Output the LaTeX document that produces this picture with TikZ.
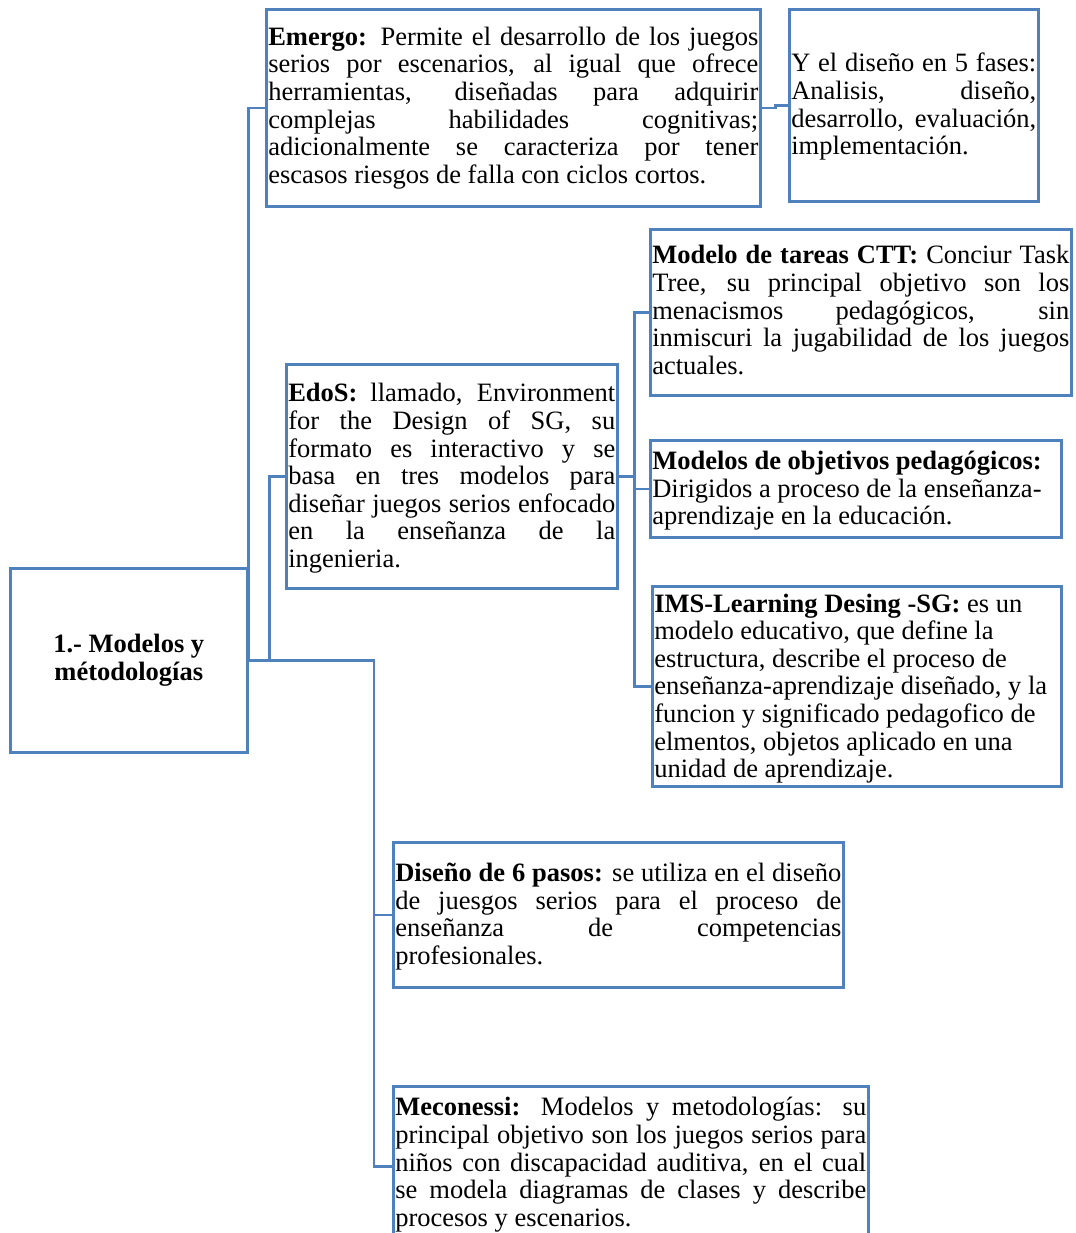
\documentclass[tikz,border=0pt]{standalone}
\usepackage{fontspec}
\setmainfont{Liberation Serif}
\definecolor{edge}{RGB}{79,129,189}

% \celltext[right stretch]{width}{height}{first baseline from top}{text}
\newcommand\celltext[5][0pt]{%
  \parbox[c][#3][t]{#2}{%
    \leftskip=1pt\rightskip=1pt plus #1\relax
    \parfillskip=0pt plus 1fil\tolerance=10000
    \hyphenpenalty=10000\exhyphenpenalty=10000
    \vspace*{\dimexpr#4-\ht\strutbox\relax}%
    \noindent\strut#5}}

\begin{document}
\begin{tikzpicture}[x=0.5pt,y=-0.5pt,
  box/.style={draw=edge, line width=1.3pt, inner sep=0pt, anchor=north west,
    font=\fontsize{13.25}{13.8}\selectfont},
  conn/.style={draw=edge, line width=1.2pt}]
\useasboundingbox (0,0) rectangle (1076,1233);
\clip (0,0) rectangle (1076,1233);

% root
\node[box, minimum width=118.5pt, minimum height=92pt, align=center,
  font=\fontsize{13.25}{13.8}\selectfont\bfseries] (root) at (9,567)
  {1.- Modelos y\\métodologías};

% first level
\node[box] (emergo) at (265,8) {\celltext{247pt}{98.5pt}{18pt}{%
\textbf{Emergo:} Permite el desarrollo de los juegos\linebreak
serios por escenarios, al igual que ofrece\linebreak
herramientas, diseñadas para adquirir\linebreak
complejas habilidades cognitivas;\linebreak
adicionalmente se caracteriza por tener\linebreak
escasos riesgos de falla con ciclos cortos.}};

\node[box] (ydis) at (788,8) {\celltext{124.5pt}{96pt}{31.3pt}{%
Y el diseño en 5 fases:\linebreak
Analisis, diseño,\linebreak
desarrollo, evaluación,\linebreak
implementación.}};

\node[box] (edos) at (285,363) {\celltext{165.5pt}{112pt}{18.8pt}{%
\textbf{EdoS:} llamado, Environment\linebreak
for the Design of SG, su\linebreak
formato es interactivo y se\linebreak
basa en tres modelos para\linebreak
diseñar juegos serios enfocado\linebreak
en la enseñanza de la\linebreak
ingenieria.}};

\node[box] (ctt) at (649,228) {\celltext{210.5pt}{83pt}{17.3pt}{%
\textbf{Modelo de tareas CTT:} Conciur Task\linebreak
Tree, su principal objetivo son los\linebreak
menacismos pedagógicos, sin\linebreak
inmiscuri la jugabilidad de los juegos\linebreak
actuales.}};

\node[box] (obj) at (649,439) {\celltext[1fil]{205.5pt}{48.5pt}{14.7pt}{%
\textbf{Modelos de objetivos pedagógicos:}\newline
Dirigidos a proceso de la enseñanza-\newline
aprendizaje en la educación.}};

\node[box] (ims) at (651,585) {\celltext[1fil]{204.5pt}{100pt}{12.9pt}{%
\textbf{IMS-Learning Desing -SG:} es un\newline
modelo educativo, que define la\newline
estructura, describe el proceso de\newline
enseñanza-aprendizaje diseñado, y la\newline
funcion y significado pedagofico de\newline
elmentos, objetos aplicado en una\newline
unidad de aprendizaje.}};

\node[box] (diseno) at (392,841) {\celltext{225pt}{72.5pt}{19.7pt}{%
\textbf{Diseño de 6 pasos:} se utiliza en el diseño\linebreak
de juesgos serios para el proceso de\linebreak
enseñanza de competencias\linebreak
profesionales.}};

\node[box] (meco) at (392,1085) {\celltext{237.5pt}{80pt}{14.8pt}{%
\textbf{Meconessi:} Modelos y metodologías: su\linebreak
principal objetivo son los juegos serios para\linebreak
niños con discapacidad auditiva, en el cual\linebreak
se modela diagramas de clases y describe\linebreak
procesos y escenarios.}};

% connectors
\draw[conn] (root.east) |- (emergo.west);
\draw[conn] (root.east) -- ++(21,0) |- (edos.west);
\draw[conn] (root.east) -| ([xshift=-9pt]diseno.west) -- (diseno.west);
\draw[conn] (root.east) -| ([xshift=-9pt]meco.west) -- (meco.west);
\draw[conn] (emergo.east) -- ++(14,0) |- (ydis.west);
\draw[conn] (edos.east) -- ++(16,0) |- (ctt.west);
\draw[conn] (edos.east) -- ++(16,0) |- (obj.west);
\draw[conn] (edos.east) -- ++(16,0) |- (ims.west);
\end{tikzpicture}
\end{document}
